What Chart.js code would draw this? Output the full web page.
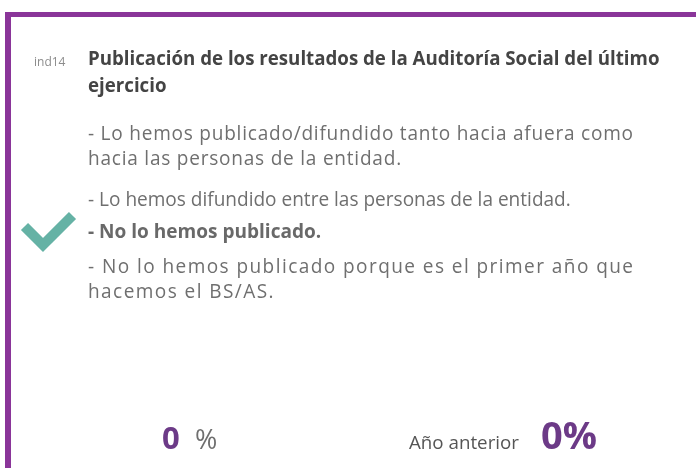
<!DOCTYPE html>
<html>
<head>
<meta charset="utf-8">
<script src="https://cdn.jsdelivr.net/npm/chart.js@4"></script>
<style>
  html, body { margin: 0; background: #fff; }
  #wrap { width: 696px; height: 468px; position: relative; }
</style>
</head>
<body>
<div id="wrap"><canvas id="card"></canvas></div>
<script>
const indicatorCode = 'ind14';
const titleLines = ['Publicación de los resultados de la Auditoría Social del último', 'ejercicio'];
const answerOptions = [
    ['- Lo hemos publicado/difundido tanto hacia afuera como', 'hacia las personas de la entidad.'],
    ['- Lo hemos difundido entre las personas de la entidad.'],
    ['- No lo hemos publicado.'],
    ['- No lo hemos publicado porque es el primer año que', 'hacemos el BS/AS.']
];
const selectedOption = [2];
const periodLabels = ['Este año', 'Año anterior'];
const periodValues = [0, 0];

const FONT = "'Open Sans', sans-serif";
const borderColor = '#8a3599';
const valueColor = '#6c3a87';
const textColor = '#6f6f6f';

// font size that makes a text span a given width
function fitSize(ctx, text, weight, target) {
    ctx.font = weight + ' 20px ' + FONT;
    return 20 * target / ctx.measureText(text).width;
}

// draw text with extra letter spacing, keeping kerning of the prefix
function spacedText(ctx, text, x, y, spacing) {
    for (let i = 0; i < text.length; i++) {
        const px = ctx.measureText(text.slice(0, i)).width + i * spacing;
        ctx.fillText(text[i], x + px, y);
    }
}

const cardPlugin = {
    id: 'card',
    afterDraw(chart) {
        const ctx = chart.ctx;
        ctx.save();
        ctx.fillStyle = '#fff';
        ctx.fillRect(0, 0, chart.width, chart.height);

        // frame: top and left bars
        ctx.fillStyle = borderColor;
        ctx.fillRect(5, 12, chart.width - 5, 5);
        ctx.fillRect(5, 12, 6, chart.height - 12);

        ctx.textBaseline = 'alphabetic';
        ctx.textAlign = 'left';

        // indicator code
        ctx.fillStyle = '#8c8c8c';
        ctx.font = '12px ' + FONT;
        ctx.fillText(indicatorCode, 34, 66);

        // title
        const titleSize = fitSize(ctx, titleLines[0], 'bold', 572);
        ctx.font = 'bold ' + titleSize + 'px ' + FONT;
        ctx.fillStyle = '#444';
        titleLines.forEach((t, i) => ctx.fillText(t, 88, 65 + i * 27));

        // answer options
        const bodySize = fitSize(ctx, answerOptions[1][0], 'normal', 483);
        const baselines = [[140, 165], [206], [238], [273, 298]];
        const fullWidth = 545;
        answerOptions.forEach((lines, k) => {
            const isSel = selectedOption.includes(k);
            ctx.font = (isSel ? 'bold ' : 'normal ') + bodySize + 'px ' + FONT;
            ctx.fillStyle = isSel ? '#696969' : textColor;
            let spacing = 0;
            if (lines.length > 1) {
                const w = ctx.measureText(lines[0]).width;
                spacing = (fullWidth - w) / (lines[0].length - 1);
            }
            lines.forEach((t, i) => spacedText(ctx, t, 88, baselines[k][i], spacing));

            if (isSel) {
                const b = baselines[k][0];
                ctx.strokeStyle = '#65b2a5';
                ctx.lineWidth = 10;
                ctx.lineCap = 'butt';
                ctx.lineJoin = 'miter';
                ctx.beginPath();
                ctx.moveTo(24.5, b - 11.5);
                ctx.lineTo(43, b + 7);
                ctx.lineTo(72.5, b - 22.5);
                ctx.stroke();
            }
        });

        // values
        const vals = chart.data.datasets[0].data;
        const cur = String(vals[0]);
        ctx.fillStyle = valueColor;
        ctx.font = 'bold 31px ' + FONT;
        ctx.fillText(cur, 162, 449);
        ctx.fillStyle = textColor;
        ctx.font = '27px ' + FONT;
        ctx.fillText('%', 195, 449);

        const lbl = chart.data.labels[1];
        const lblSize = fitSize(ctx, lbl, 'normal', 110);
        ctx.font = lblSize + 'px ' + FONT;
        ctx.fillStyle = '#555';
        ctx.fillText(lbl, 409, 449);

        const prev = vals[1] + '%';
        const prevSize = fitSize(ctx, prev, 'bold', 56);
        ctx.font = 'bold ' + prevSize + 'px ' + FONT;
        ctx.fillStyle = valueColor;
        ctx.fillText(prev, 541, 449);
        ctx.restore();
    }
};

new Chart(document.getElementById('card'), {
    type: 'bar',
    data: {
        labels: periodLabels,
        datasets: [{
            data: periodValues,
            backgroundColor: 'rgba(0,0,0,0)',
        }]
    },
    options: {
        responsive: true,
        maintainAspectRatio: false,
        animation: false,
        events: [],
        plugins: {
            legend: { display: false },
            tooltip: { enabled: false }
        },
        scales: {
            x: { display: false },
            y: { display: false }
        }
    },
    plugins: [cardPlugin]
});
</script>
</body>
</html>
